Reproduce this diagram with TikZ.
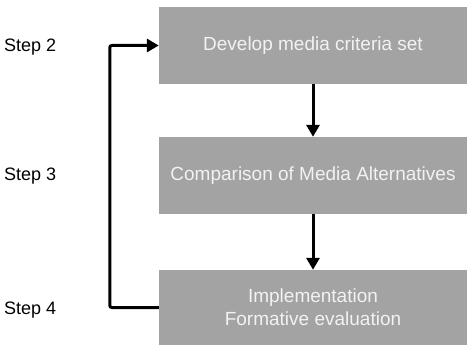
\documentclass[tikz,border=0pt]{standalone}
\usepackage{xcolor}
\usepackage{fontspec}
\setmainfont{Liberation Sans}
\usepackage{tikz}
\usetikzlibrary{positioning,arrows.meta,calc}
\definecolor{boxc}{HTML}{A3A3A3}
\definecolor{boxtextc}{HTML}{F2F2F2}
\tikzset{
  stagebox/.style={fill=boxc,draw=none,text=boxtextc,minimum width=308pt,
    minimum height=77pt,align=center,font=\fontsize{19}{23}\selectfont},
  steplabel/.style={anchor=west,inner sep=0pt,font=\fontsize{18}{22}\selectfont},
  flow/.style={line width=3pt,-{Triangle[length=12pt,width=13pt]}}
}

\begin{document}
\begin{tikzpicture}[x=1pt,y=-1pt]
  \useasboundingbox (0,0) rectangle (468,345);
  % the three stages
  \node[stagebox] (criteria) at (313,45.5) {Develop media criteria set};
  \node[stagebox] (compare) at (313,175.5) {Comparison of Media Alternatives};
  \node[stagebox,minimum height=75pt] (implement) at (313,307.5) {Implementation\\Formative evaluation};
  % step labels on the left
  \node[steplabel] (s2) at (4,47) {Step 2};
  \node[steplabel] (s3) at (4,176) {Step 3};
  \node[steplabel] (s4) at (4,310) {Step 4};
  % arrows
  \draw[flow] (criteria.south) -- (compare.north);
  \draw[flow] (compare.south) -- (implement.north);
  \draw[flow,rounded corners=2pt] (implement.west) -- ++(-49,0) |- (criteria.west);
\end{tikzpicture}
\end{document}
